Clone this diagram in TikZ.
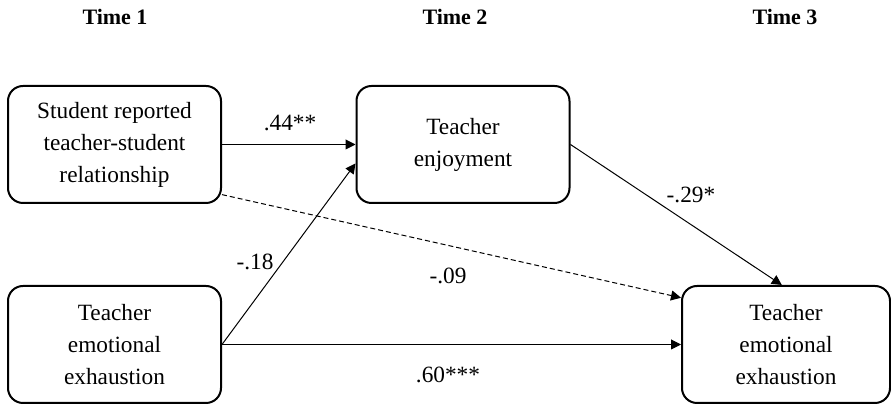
\documentclass[tikz,border=0pt]{standalone}
\usepackage{fontspec}
\setmainfont{Liberation Serif}
\usetikzlibrary{
    arrows.meta
}

\begin{document}
\begin{tikzpicture}[x=0.5pt,y=-0.5pt,
    var/.style={draw, line width=1pt, rounded corners=7.5pt,
                minimum width=106.5pt, minimum height=58.5pt,
                inner sep=0pt, align=center,
                font=\fontsize{11.65}{16}\selectfont},
    link/.style={line width=0.5pt, -{Triangle[length=5pt,width=5pt]}},
    coef/.style={inner sep=0pt, font=\fontsize{11.65}{14}\selectfont},
    wave/.style={inner sep=0pt, font=\bfseries\fontsize{11}{13}\selectfont}]

\useasboundingbox (0,0) rectangle (891,405);

% Time points
\node[wave] (t1) at (115,17) {Time 1};
\node[wave] (t2) at (455,17) {Time 2};
\node[wave] (t3) at (785,17) {Time 3};

% Variables
\node[var] (stud) at (114.5,144.5) {Student reported\\teacher-student\\relationship};
\node[var] (enjoy) at (463,144.5) {Teacher\\enjoyment};
\node[var] (exh1) at (114.5,344.5) {Teacher\\emotional\\exhaustion};
\node[var, minimum width=104pt] (exh3) at (786,344.5) {Teacher\\emotional\\exhaustion};

% Paths
\draw[link] (stud.east) -- (enjoy.west);
\draw[link, dash pattern=on 2.5pt off 1.5pt] (stud.-25) -- (exh3.156);
\draw[link] (exh1.east) -- (enjoy.190);
\draw[link] (exh1.east) -- (exh3.west);
\draw[link] (enjoy.east) -- (exh3.94);

% Coefficients
\node[coef] (c1) at (290,123) {.44**};
\node[coef] (c2) at (255,262) {-.18};
\node[coef] (c3) at (448,276) {-.09};
\node[coef] (c4) at (448,375) {.60***};
\node[coef] (c5) at (691,195) {-.29*};

\end{tikzpicture}
\end{document}
